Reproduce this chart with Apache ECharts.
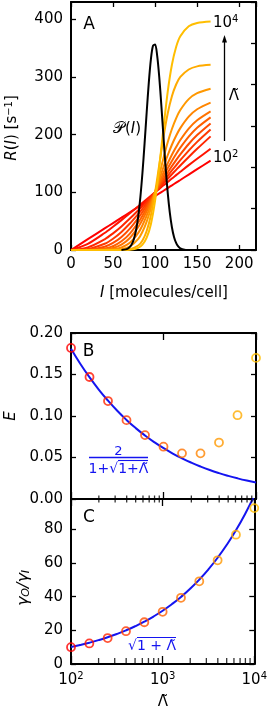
<!DOCTYPE html>
<html><head><meta charset="utf-8">
<script src="https://cdn.jsdelivr.net/npm/echarts@6/dist/echarts.min.js"></script>
<style>html,body{margin:0;padding:0;background:#fff}#c{width:270px;height:710px}</style>
</head><body><div id="c"></div>
<script>
// ---------- DATA ----------
// Panel A: response functions R(I) for Lambda = 10^2 ... 10^4 (step 10^0.2)
const I_VALUES = [0,20,40,50,60,70,80,85,90,95,100,105,110,115,120,125,130,140,150,166];
const R_L1 = [0,18.7,37.4,46.7,56.0,65.4,74.7,79.4,84.1,88.7,93.4,98.1,102.7,107.4,112.1,116.8,121.4,130.8,140.1,155.0];
const R_L2 = [0,10.8,29.5,40.4,51.8,63.6,75.7,81.8,87.9,93.9,100,106.0,112.1,118.0,124.0,129.8,135.6,147.1,158.2,175.5];
const R_L3 = [0,4.5,18.6,28.9,40.9,54.5,69.0,76.6,84.3,92.1,100,107.9,115.7,123.6,131.3,139.0,146.6,161.3,175.4,197.0];
const R_L4 = [0,1.6,10.8,19.6,31.4,45.9,62.6,71.6,80.9,90.4,100,109.6,119.2,128.6,137.9,146.9,155.7,172.3,187.5,209.0];
const R_L5 = [0,0.5,5.6,12.2,22.6,37.1,55.5,66.0,77.0,88.4,100,111.7,123.2,134.5,145.4,155.9,165.8,183.8,199.3,219.5];
const R_L6 = [0,0.1,2.5,6.8,15.1,28.5,47.9,59.6,72.4,85.9,100,114.2,128.1,141.6,154.4,166.4,177.4,196.5,211.9,230.0];
const R_L7 = [0,0,1.0,3.5,9.3,20.8,40.0,52.6,67.2,83.1,100,117.2,134.0,150.2,165.1,178.6,190.7,210.5,225.0,240.5];
const R_L8 = [0,0,0.3,1.2,4.4,12.5,29.7,43.0,59.4,78.7,100,122.2,143.9,164.3,182.5,198.2,211.4,231.2,244.0,255.6];
const R_L9 = [0,0,0,0.3,1.5,6.1,19.3,31.7,49.3,72.4,100,130.0,159.7,186.8,209.8,228.3,242.7,261.6,271.9,279.6];
const R_L10 = [0,0,0,0,0.2,1.4,7.8,16.6,33.0,60.4,100,148.0,196.0,236.6,266.7,287.0,300.0,313.0,318.4,321.0];
const R_L11 = [0,0,0,0,0,0.5,3.8,9.3,21.3,44.8,85.5,144.3,212.0,274.3,321.2,352.0,370.6,387.9,393.7,396.3];
const R_CURVES = [R_L1,R_L2,R_L3,R_L4,R_L5,R_L6,R_L7,R_L8,R_L9,R_L10,R_L11];
// input distribution P(I) (drawn in R units)
const P_I = [60,65,67.5,70,72.5,75,77.5,80,82.5,85,87.5,90,92.5,95,97.5,100,102.5,105,107.5,110,112.5,115,117.5,120,122.5,125,127.5,130,135,140,145];
const P_VAL = [0.2,1.1,2.5,5.3,10.7,20.1,35.5,58.9,91.8,134.4,184.8,238.8,289.8,330.5,354,356.2,336.7,299,249.5,195.5,143.9,99.5,64.7,39.5,22.6,12.2,6.2,2.9,0.5,0.1,0];
// Panels B, C: simulation points
const LAMBDA_PTS = [100,158.5,251.2,398.1,631,1000,1585,2512,3981,6310,10000];
const E_PTS = [0.182,0.147,0.118,0.095,0.077,0.063,0.055,0.055,0.068,0.101,0.170];
const GAIN_PTS = [10.0,12.2,15.4,19.5,24.8,31.0,39.3,49.1,61.6,76.8,92.6];
// theory curves
const LAMBDA_FIT = [100,125.9,158.5,199.5,251.2,316.2,398.1,501.2,631,794.3,1000,1259,1585,1995,2512,3162,3981,5012,6310,7943,10000];
const E_FIT = [0.1810,0.1630,0.1467,0.1319,0.1185,0.1063,0.0953,0.0854,0.0765,0.0685,0.0613,0.0548,0.0490,0.0438,0.0391,0.0349,0.0312,0.0279,0.0249,0.0222,0.0198];
const GAIN_FIT = [10.05,11.27,12.63,14.16,15.88,17.81,19.98,22.41,25.14,28.20,31.64,35.50,39.82,44.68,50.13,56.24,63.10,70.80,79.44,89.13,100.0];
// tick values
const A_X_TICKS = {min:0, max:220, interval:50};
const A_Y_TICKS = {min:0, max:430, interval:100};
const B_Y_TICKS = {min:0, max:0.2, interval:0.05};
const C_Y_TICKS = {min:0, max:98, interval:20};
const LOG_RANGE = {min:100, max:10000};
const LOG_MINOR = [200,300,400,500,600,700,800,900,2000,3000,4000,5000,6000,7000,8000,9000];

// ---------- STYLE ----------
const COLORS = ['#ff0000','#ff1300','#ff2600','#ff3900','#ff4c00','#ff5f00','#ff7200','#ff8500','#ff9800','#ffab00','#ffbe00'];
const FONT = "'DejaVu Sans', sans-serif";
const BLUE = '#1414f0';
const BLACK = '#000';

function axisBase(o){
  return Object.assign({
    axisLine:{show:true,onZero:false,lineStyle:{color:BLACK,width:2}},
    axisTick:{show:true,inside:true,length:5,lineStyle:{color:BLACK,width:1.3}},
    splitLine:{show:false},
    axisLabel:{show:false}
  }, o);
}
const yLab = {show:true,fontSize:15,fontFamily:FONT,color:BLACK,margin:8};

const grids = [
  {left:71, top:2, width:185, height:248},
  {left:71, top:333, width:185, height:166},
  {left:71, top:499, width:185, height:165}
];

const xAxes = [
  axisBase({gridIndex:0,type:'value',position:'bottom',min:A_X_TICKS.min,max:A_X_TICKS.max,interval:A_X_TICKS.interval,
    axisLabel:{show:true,fontSize:15,fontFamily:FONT,color:BLACK,margin:7,showMaxLabel:false}}),
  axisBase({gridIndex:0,type:'value',position:'top',min:A_X_TICKS.min,max:A_X_TICKS.max,interval:A_X_TICKS.interval}),
  axisBase({gridIndex:1,type:'log',logBase:10,position:'bottom',min:LOG_RANGE.min,max:LOG_RANGE.max,
    axisTick:{show:true,inside:true,length:7,lineStyle:{color:BLACK,width:1.3}}}),
  axisBase({gridIndex:1,type:'log',logBase:10,position:'top',min:LOG_RANGE.min,max:LOG_RANGE.max,
    axisTick:{show:true,inside:true,length:7,lineStyle:{color:BLACK,width:1.3}}}),
  axisBase({gridIndex:2,type:'log',logBase:10,position:'bottom',min:LOG_RANGE.min,max:LOG_RANGE.max,
    axisTick:{show:true,inside:true,length:8,lineStyle:{color:BLACK,width:1.3}},
    axisLabel:{show:true,margin:7,formatter:function(v){return '{b|10}{s|'+Math.round(Math.log10(v))+'}';},
      rich:{b:{fontSize:15,fontFamily:FONT,color:BLACK,lineHeight:18},s:{fontSize:10,fontFamily:FONT,color:BLACK,verticalAlign:'top',lineHeight:10}}}}),
  axisBase({gridIndex:2,type:'log',logBase:10,position:'top',min:LOG_RANGE.min,max:LOG_RANGE.max,
    axisTick:{show:true,inside:true,length:7,lineStyle:{color:BLACK,width:1.3}}})
];
const yAxes = [
  axisBase({gridIndex:0,type:'value',position:'left',min:A_Y_TICKS.min,max:A_Y_TICKS.max,interval:A_Y_TICKS.interval,
    axisLabel:Object.assign({},yLab,{showMaxLabel:false})}),
  axisBase({gridIndex:0,type:'value',position:'right',min:0,max:6,interval:1}),
  axisBase({gridIndex:1,type:'value',position:'left',min:B_Y_TICKS.min,max:B_Y_TICKS.max,interval:B_Y_TICKS.interval,
    axisLabel:Object.assign({},yLab,{formatter:function(v){return v.toFixed(2);}})}),
  axisBase({gridIndex:1,type:'value',position:'right',min:B_Y_TICKS.min,max:B_Y_TICKS.max,interval:B_Y_TICKS.interval}),
  axisBase({gridIndex:2,type:'value',position:'left',min:C_Y_TICKS.min,max:C_Y_TICKS.max,interval:C_Y_TICKS.interval,
    axisLabel:Object.assign({},yLab,{showMaxLabel:false})}),
  axisBase({gridIndex:2,type:'value',position:'right',min:C_Y_TICKS.min,max:C_Y_TICKS.max,interval:C_Y_TICKS.interval})
];

const series = [];
R_CURVES.forEach(function(arr,k){
  series.push({type:'line',xAxisIndex:0,yAxisIndex:0,silent:true,symbol:'none',smooth:0.3,
    data:I_VALUES.map(function(x,i){return [x,arr[i]];}),
    lineStyle:{color:COLORS[k],width:2},z:2});
});
series.push({type:'line',xAxisIndex:0,yAxisIndex:0,silent:true,symbol:'none',smooth:0.3,
  data:P_I.map(function(x,i){return [x,P_VAL[i]];}),lineStyle:{color:BLACK,width:2},z:3});
// panel B
series.push({type:'line',xAxisIndex:2,yAxisIndex:2,silent:true,symbol:'none',smooth:true,
  data:LAMBDA_FIT.map(function(x,i){return [x,E_FIT[i]];}),lineStyle:{color:BLUE,width:2},z:2});
series.push({type:'scatter',xAxisIndex:2,yAxisIndex:2,silent:true,symbol:'circle',symbolSize:8,clip:false,
  data:LAMBDA_PTS.map(function(x,i){return {value:[x,E_PTS[i]],itemStyle:{borderColor:COLORS[i]}};}),
  itemStyle:{color:'rgba(0,0,0,0)',borderWidth:1.8},z:3});
series.push({type:'scatter',xAxisIndex:2,yAxisIndex:2,silent:true,symbol:'rect',symbolSize:[1.3,7],clip:false,
  data:LOG_MINOR.map(function(x){return [x,B_Y_TICKS.min];}),itemStyle:{color:BLACK},z:4});
// panel C
series.push({type:'line',xAxisIndex:4,yAxisIndex:4,silent:true,symbol:'none',smooth:true,clip:true,
  data:LAMBDA_FIT.map(function(x,i){return [x,GAIN_FIT[i]];}),lineStyle:{color:BLUE,width:2},z:2});
series.push({type:'scatter',xAxisIndex:4,yAxisIndex:4,silent:true,symbol:'circle',symbolSize:8,clip:false,
  data:LAMBDA_PTS.map(function(x,i){return {value:[x,GAIN_PTS[i]],itemStyle:{borderColor:COLORS[i]}};}),
  itemStyle:{color:'rgba(0,0,0,0)',borderWidth:1.8},z:3});
series.push({type:'scatter',xAxisIndex:4,yAxisIndex:4,silent:true,symbol:'rect',symbolSize:[1.3,6],symbolOffset:[0,-3],clip:false,
  data:LOG_MINOR.map(function(x){return [x,C_Y_TICKS.min];}),itemStyle:{color:BLACK},z:4});

function txt(x,y,text,o){
  return Object.assign({type:'text',x:x,y:y,silent:true,z:10,
    style:Object.assign({text:text,fontSize:15,fontFamily:FONT,fill:BLACK,align:'center',verticalAlign:'middle'},o||{})});
}
const richBase = {
  n:{fontSize:15,fontFamily:FONT,fill:BLACK},
  i:{fontSize:15,fontFamily:FONT,fontStyle:'italic',fill:BLACK},
  sup:{fontSize:10,fontFamily:FONT,fill:BLACK,verticalAlign:'top',lineHeight:10},
  b:{fontSize:15,fontFamily:FONT,fill:BLACK,lineHeight:18},
  p:{fontSize:16,fontFamily:FONT,fill:BLACK}
};
const graphics = [
  txt(89,25,'A',{fontSize:17}),
  txt(88.5,352,'B',{fontSize:17}),
  txt(89,517.5,'C',{fontSize:17}),
  txt(127,129,'{p|\uD835\uDCAB}{n|(}{i|I}{n|)}',{rich:richBase}),
  txt(213,23,'{b|10}{sup|4}',{align:'left',rich:richBase}),
  txt(213,158,'{b|10}{sup|2}',{align:'left',rich:richBase}),
  txt(234,96,'\u039B\u0303',{fontSize:15}),
  {type:'line',silent:true,shape:{x1:224.5,y1:141,x2:224.5,y2:41},style:{stroke:BLACK,lineWidth:1.3}},
  {type:'polygon',silent:true,shape:{points:[[224.5,35],[222,42.5],[227,42.5]]},style:{fill:BLACK}},
  Object.assign(txt(12,128,'{i|R}{n|(}{i|I}{n|) [s}{sup|\u22121}{n|]}',{rich:richBase}),{rotation:Math.PI/2}),
  txt(164,293,'{i|I}{n| [molecules/cell]}',{rich:richBase}),
  Object.assign(txt(11,416,'{i|E}',{rich:richBase}),{rotation:Math.PI/2}),
  Object.assign(txt(24,588,'{g|\u03B3}{s|O}{g|/\u03B3}{s|I}',{rich:{
     g:{fontSize:16,fontFamily:FONT,fontStyle:'italic',fill:BLACK},
     s:{fontSize:11,fontFamily:FONT,fontStyle:'italic',fill:BLACK,verticalAlign:'bottom'}}}),{rotation:Math.PI/2}),
  txt(163,702,'\u039B\u0303',{fontSize:15}),
  // formula B
  txt(118.5,451.5,'2',{fontSize:13,fill:BLUE}),
  {type:'line',silent:true,shape:{x1:89,y1:457.5,x2:148,y2:457.5},style:{stroke:BLUE,lineWidth:1.3}},
  txt(118.5,469,'1+\u221A1+\u039B\u0303',{fontSize:14,fill:BLUE}),
  {type:'line',silent:true,shape:{x1:118,y1:460.5,x2:148,y2:460.5},style:{stroke:BLUE,lineWidth:1.1}},
  // formula C
  txt(152,646,'\u221A1 + \u039B\u0303',{fontSize:14,fill:BLUE}),
  {type:'line',silent:true,shape:{x1:137,y1:637.5,x2:176,y2:637.5},style:{stroke:BLUE,lineWidth:1.1}}
];

const chart = echarts.init(document.getElementById('c'), null, {renderer:'canvas'});
chart.setOption({
  animation:false,
  backgroundColor:'#fff',
  grid:grids,
  xAxis:xAxes,
  yAxis:yAxes,
  series:series,
  graphic:graphics
});
</script></body></html>
